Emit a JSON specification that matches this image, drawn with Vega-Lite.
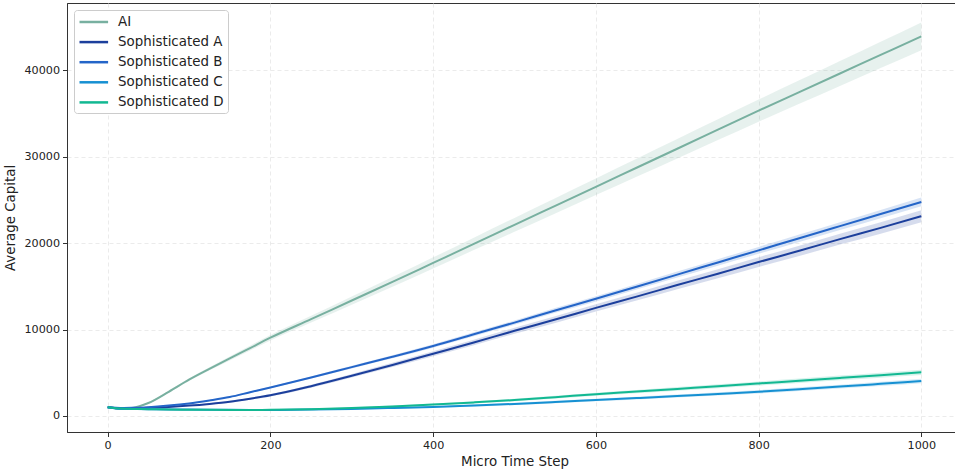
{
  "$schema": "https://vega.github.io/schema/vega-lite/v6.json",
  "autosize": "none",
  "width": 895,
  "height": 429,
  "padding": {"left": 67, "top": 3, "right": 0, "bottom": 38},
  "background": "white",
  "config": {
    "font": "DejaVu Sans",
    "view": {"stroke": "#333333", "strokeWidth": 1},
    "axis": {
      "domainColor": "#333333",
      "tickColor": "#333333",
      "tickSize": 4.5,
      "labelFontSize": 11.2,
      "labelColor": "#222222",
      "titleFontSize": 13.4,
      "titleFontWeight": "normal",
      "titleColor": "#222222",
      "gridColor": "#e6e6e6",
      "gridDash": [4, 3],
      "gridWidth": 0.8
    }
  },
  "datasets": {
    "d": [
      {"t":0,"s":"AI","m":1000,"lo":1000,"hi":1000},
      {"t":10,"s":"AI","m":900,"lo":885,"hi":915},
      {"t":20,"s":"AI","m":850,"lo":820,"hi":880},
      {"t":30,"s":"AI","m":920,"lo":870,"hi":970},
      {"t":50,"s":"AI","m":1500,"lo":1420,"hi":1580},
      {"t":75,"s":"AI","m":2800,"lo":2680,"hi":2920},
      {"t":100,"s":"AI","m":4200,"lo":4040,"hi":4360},
      {"t":125,"s":"AI","m":5450,"lo":5250,"hi":5650},
      {"t":150,"s":"AI","m":6650,"lo":6410,"hi":6890},
      {"t":175,"s":"AI","m":7850,"lo":7570,"hi":8130},
      {"t":200,"s":"AI","m":9050,"lo":8730,"hi":9370},
      {"t":250,"s":"AI","m":11200,"lo":10800,"hi":11600},
      {"t":300,"s":"AI","m":13350,"lo":12870,"hi":13830},
      {"t":350,"s":"AI","m":15500,"lo":14940,"hi":16060},
      {"t":400,"s":"AI","m":17700,"lo":17060,"hi":18340},
      {"t":450,"s":"AI","m":19900,"lo":19180,"hi":20620},
      {"t":500,"s":"AI","m":22100,"lo":21300,"hi":22900},
      {"t":550,"s":"AI","m":24300,"lo":23420,"hi":25180},
      {"t":600,"s":"AI","m":26500,"lo":25540,"hi":27460},
      {"t":650,"s":"AI","m":28700,"lo":27660,"hi":29740},
      {"t":700,"s":"AI","m":30900,"lo":29780,"hi":32020},
      {"t":750,"s":"AI","m":33100,"lo":31900,"hi":34300},
      {"t":800,"s":"AI","m":35300,"lo":34020,"hi":36580},
      {"t":850,"s":"AI","m":37450,"lo":36090,"hi":38810},
      {"t":900,"s":"AI","m":39600,"lo":38160,"hi":41040},
      {"t":950,"s":"AI","m":41750,"lo":40230,"hi":43270},
      {"t":1000,"s":"AI","m":43900,"lo":42300,"hi":45500},

      {"t":0,"s":"Sophisticated A","m":1000,"lo":1000,"hi":1000},
      {"t":10,"s":"Sophisticated A","m":900,"lo":893,"hi":907},
      {"t":20,"s":"Sophisticated A","m":870,"lo":856,"hi":884},
      {"t":30,"s":"Sophisticated A","m":880,"lo":859,"hi":901},
      {"t":50,"s":"Sophisticated A","m":950,"lo":915,"hi":985},
      {"t":75,"s":"Sophisticated A","m":1050,"lo":998,"hi":1102},
      {"t":100,"s":"Sophisticated A","m":1200,"lo":1130,"hi":1270},
      {"t":125,"s":"Sophisticated A","m":1400,"lo":1312,"hi":1488},
      {"t":150,"s":"Sophisticated A","m":1650,"lo":1545,"hi":1755},
      {"t":175,"s":"Sophisticated A","m":2000,"lo":1878,"hi":2122},
      {"t":200,"s":"Sophisticated A","m":2400,"lo":2260,"hi":2540},
      {"t":250,"s":"Sophisticated A","m":3450,"lo":3275,"hi":3625},
      {"t":300,"s":"Sophisticated A","m":4650,"lo":4440,"hi":4860},
      {"t":350,"s":"Sophisticated A","m":5900,"lo":5655,"hi":6145},
      {"t":400,"s":"Sophisticated A","m":7200,"lo":6920,"hi":7480},
      {"t":450,"s":"Sophisticated A","m":8500,"lo":8185,"hi":8815},
      {"t":500,"s":"Sophisticated A","m":9850,"lo":9500,"hi":10200},
      {"t":550,"s":"Sophisticated A","m":11150,"lo":10765,"hi":11535},
      {"t":600,"s":"Sophisticated A","m":12500,"lo":12080,"hi":12920},
      {"t":650,"s":"Sophisticated A","m":13800,"lo":13345,"hi":14255},
      {"t":700,"s":"Sophisticated A","m":15150,"lo":14660,"hi":15640},
      {"t":750,"s":"Sophisticated A","m":16450,"lo":15925,"hi":16975},
      {"t":800,"s":"Sophisticated A","m":17800,"lo":17240,"hi":18360},
      {"t":850,"s":"Sophisticated A","m":19100,"lo":18505,"hi":19695},
      {"t":900,"s":"Sophisticated A","m":20450,"lo":19820,"hi":21080},
      {"t":950,"s":"Sophisticated A","m":21750,"lo":21085,"hi":22415},
      {"t":1000,"s":"Sophisticated A","m":23100,"lo":22400,"hi":23800},

      {"t":0,"s":"Sophisticated B","m":1000,"lo":1000,"hi":1000},
      {"t":10,"s":"Sophisticated B","m":950,"lo":945,"hi":955},
      {"t":20,"s":"Sophisticated B","m":930,"lo":920,"hi":940},
      {"t":30,"s":"Sophisticated B","m":945,"lo":930,"hi":960},
      {"t":50,"s":"Sophisticated B","m":1020,"lo":995,"hi":1045},
      {"t":75,"s":"Sophisticated B","m":1200,"lo":1162,"hi":1238},
      {"t":100,"s":"Sophisticated B","m":1450,"lo":1400,"hi":1500},
      {"t":125,"s":"Sophisticated B","m":1800,"lo":1738,"hi":1862},
      {"t":150,"s":"Sophisticated B","m":2200,"lo":2125,"hi":2275},
      {"t":175,"s":"Sophisticated B","m":2750,"lo":2662,"hi":2838},
      {"t":200,"s":"Sophisticated B","m":3300,"lo":3200,"hi":3400},
      {"t":250,"s":"Sophisticated B","m":4450,"lo":4325,"hi":4575},
      {"t":300,"s":"Sophisticated B","m":5650,"lo":5500,"hi":5800},
      {"t":350,"s":"Sophisticated B","m":6850,"lo":6675,"hi":7025},
      {"t":400,"s":"Sophisticated B","m":8100,"lo":7900,"hi":8300},
      {"t":450,"s":"Sophisticated B","m":9450,"lo":9225,"hi":9675},
      {"t":500,"s":"Sophisticated B","m":10800,"lo":10550,"hi":11050},
      {"t":550,"s":"Sophisticated B","m":12200,"lo":11925,"hi":12475},
      {"t":600,"s":"Sophisticated B","m":13550,"lo":13250,"hi":13850},
      {"t":650,"s":"Sophisticated B","m":14950,"lo":14625,"hi":15275},
      {"t":700,"s":"Sophisticated B","m":16350,"lo":16000,"hi":16700},
      {"t":750,"s":"Sophisticated B","m":17750,"lo":17375,"hi":18125},
      {"t":800,"s":"Sophisticated B","m":19150,"lo":18750,"hi":19550},
      {"t":850,"s":"Sophisticated B","m":20550,"lo":20125,"hi":20975},
      {"t":900,"s":"Sophisticated B","m":21950,"lo":21500,"hi":22400},
      {"t":950,"s":"Sophisticated B","m":23350,"lo":22875,"hi":23825},
      {"t":1000,"s":"Sophisticated B","m":24750,"lo":24250,"hi":25250},

      {"t":0,"s":"Sophisticated C","m":1000,"lo":1000,"hi":1000},
      {"t":10,"s":"Sophisticated C","m":880,"lo":877,"hi":883},
      {"t":20,"s":"Sophisticated C","m":840,"lo":835,"hi":845},
      {"t":30,"s":"Sophisticated C","m":820,"lo":812,"hi":828},
      {"t":50,"s":"Sophisticated C","m":790,"lo":778,"hi":802},
      {"t":75,"s":"Sophisticated C","m":760,"lo":741,"hi":779},
      {"t":100,"s":"Sophisticated C","m":740,"lo":715,"hi":765},
      {"t":125,"s":"Sophisticated C","m":720,"lo":689,"hi":751},
      {"t":150,"s":"Sophisticated C","m":710,"lo":672,"hi":748},
      {"t":175,"s":"Sophisticated C","m":700,"lo":656,"hi":744},
      {"t":200,"s":"Sophisticated C","m":700,"lo":650,"hi":750},
      {"t":250,"s":"Sophisticated C","m":740,"lo":678,"hi":802},
      {"t":300,"s":"Sophisticated C","m":820,"lo":745,"hi":895},
      {"t":350,"s":"Sophisticated C","m":930,"lo":842,"hi":1018},
      {"t":400,"s":"Sophisticated C","m":1050,"lo":950,"hi":1150},
      {"t":450,"s":"Sophisticated C","m":1220,"lo":1108,"hi":1332},
      {"t":500,"s":"Sophisticated C","m":1400,"lo":1275,"hi":1525},
      {"t":550,"s":"Sophisticated C","m":1620,"lo":1482,"hi":1758},
      {"t":600,"s":"Sophisticated C","m":1850,"lo":1700,"hi":2000},
      {"t":650,"s":"Sophisticated C","m":2070,"lo":1908,"hi":2232},
      {"t":700,"s":"Sophisticated C","m":2300,"lo":2125,"hi":2475},
      {"t":750,"s":"Sophisticated C","m":2550,"lo":2362,"hi":2738},
      {"t":800,"s":"Sophisticated C","m":2800,"lo":2600,"hi":3000},
      {"t":850,"s":"Sophisticated C","m":3100,"lo":2888,"hi":3312},
      {"t":900,"s":"Sophisticated C","m":3400,"lo":3175,"hi":3625},
      {"t":950,"s":"Sophisticated C","m":3720,"lo":3482,"hi":3958},
      {"t":1000,"s":"Sophisticated C","m":4050,"lo":3800,"hi":4300},

      {"t":0,"s":"Sophisticated D","m":1000,"lo":1000,"hi":1000},
      {"t":10,"s":"Sophisticated D","m":900,"lo":897,"hi":903},
      {"t":20,"s":"Sophisticated D","m":850,"lo":844,"hi":856},
      {"t":30,"s":"Sophisticated D","m":820,"lo":811,"hi":829},
      {"t":50,"s":"Sophisticated D","m":780,"lo":765,"hi":795},
      {"t":75,"s":"Sophisticated D","m":750,"lo":728,"hi":772},
      {"t":100,"s":"Sophisticated D","m":730,"lo":700,"hi":760},
      {"t":125,"s":"Sophisticated D","m":710,"lo":672,"hi":748},
      {"t":150,"s":"Sophisticated D","m":700,"lo":655,"hi":745},
      {"t":175,"s":"Sophisticated D","m":700,"lo":648,"hi":752},
      {"t":200,"s":"Sophisticated D","m":710,"lo":650,"hi":770},
      {"t":250,"s":"Sophisticated D","m":790,"lo":715,"hi":865},
      {"t":300,"s":"Sophisticated D","m":920,"lo":830,"hi":1010},
      {"t":350,"s":"Sophisticated D","m":1100,"lo":995,"hi":1205},
      {"t":400,"s":"Sophisticated D","m":1320,"lo":1200,"hi":1440},
      {"t":450,"s":"Sophisticated D","m":1570,"lo":1435,"hi":1705},
      {"t":500,"s":"Sophisticated D","m":1850,"lo":1700,"hi":2000},
      {"t":550,"s":"Sophisticated D","m":2180,"lo":2015,"hi":2345},
      {"t":600,"s":"Sophisticated D","m":2520,"lo":2340,"hi":2700},
      {"t":650,"s":"Sophisticated D","m":2820,"lo":2625,"hi":3015},
      {"t":700,"s":"Sophisticated D","m":3130,"lo":2920,"hi":3340},
      {"t":750,"s":"Sophisticated D","m":3440,"lo":3215,"hi":3665},
      {"t":800,"s":"Sophisticated D","m":3760,"lo":3520,"hi":4000},
      {"t":850,"s":"Sophisticated D","m":4080,"lo":3825,"hi":4335},
      {"t":900,"s":"Sophisticated D","m":4400,"lo":4130,"hi":4670},
      {"t":950,"s":"Sophisticated D","m":4720,"lo":4435,"hi":5005},
      {"t":1000,"s":"Sophisticated D","m":5050,"lo":4750,"hi":5350}
    ]
  },
  "data": {"name": "d"},
  "encoding": {
    "x": {
      "field": "t", "type": "quantitative",
      "scale": {"domain": [-50, 1050], "nice": false, "zero": false},
      "axis": {"values": [0, 200, 400, 600, 800, 1000], "format": "d", "title": "Micro Time Step", "labelPadding": 3, "titlePadding": 4}
    },
    "color": {
      "field": "s", "type": "nominal",
      "scale": {
        "domain": ["AI", "Sophisticated A", "Sophisticated B", "Sophisticated C", "Sophisticated D"],
        "range": ["#78b0a0", "#1c3f9c", "#2465c8", "#1690d2", "#12b892"]
      },
      "legend": {
        "title": null,
        "orient": "top-left",
        "offset": 7,
        "symbolType": "M-1,0H3.4",
        "symbolSize": 169,
        "symbolStrokeWidth": 2.5,
        "symbolOpacity": 1,
        "labelFontSize": 13.4,
        "labelColor": "#222222",
        "labelOffset": 24,
        "rowPadding": 5.1,
        "padding": 4,
        "strokeColor": "#cccccc",
        "fillColor": "white",
        "cornerRadius": 3
      }
    }
  },
  "layer": [
    {
      "mark": {"type": "area", "opacity": 0.18, "interpolate": "monotone"},
      "encoding": {
        "y": {"field": "lo", "type": "quantitative"},
        "y2": {"field": "hi"}
      }
    },
    {
      "mark": {"type": "line", "strokeWidth": 2, "interpolate": "monotone"},
      "encoding": {
        "y": {
          "field": "m", "type": "quantitative",
          "scale": {"domain": [-1850, 47750], "nice": false, "zero": false},
          "axis": {"values": [0, 10000, 20000, 30000, 40000], "format": "d", "title": "Average Capital", "labelPadding": 3, "titlePadding": 6}
        }
      }
    }
  ]
}
